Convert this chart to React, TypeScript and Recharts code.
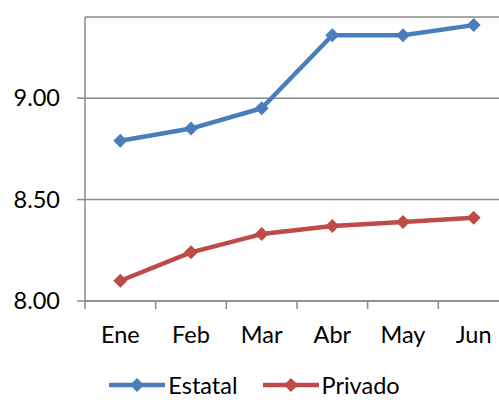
import { LineChart, Line, XAxis, YAxis, CartesianGrid, Legend } from 'recharts';

const MONTHS = ['Ene', 'Feb', 'Mar', 'Abr', 'May', 'Jun'];
const ESTATAL = [8.79, 8.85, 8.95, 9.31, 9.31, 9.36];
const PRIVADO = [8.1, 8.24, 8.33, 8.37, 8.39, 8.41];
const Y_TICKS = [8, 8.5, 9];

const SERIES = [
  { key: 'estatal', name: 'Estatal', color: '#4A7EBB' },
  { key: 'privado', name: 'Privado', color: '#BE4B48' },
];

const data = MONTHS.map((m, i) => ({ month: m, estatal: ESTATAL[i], privado: PRIVADO[i] }));

const GRID = '#8A8A8A';
const FONT = 'Lato, sans-serif';
const FONT_SIZE = 23.5;
const X_MARGIN = 26;

function Diamond({ cx, cy, fill, r = 7 }: any) {
  if (cx == null || cy == null) return null;
  return <path d={`M${cx},${cy - r} L${cx + r},${cy} L${cx},${cy + r} L${cx - r},${cy} Z`} fill={fill} />;
}

// label at band centre, tick mark at band boundary (Excel style)
function MonthTick({ x, y, payload }: any) {
  const axisY = y - X_MARGIN;
  const bx = x - (payload.offset ?? 0);
  return (
    <g>
      <line x1={bx} x2={bx} y1={axisY} y2={axisY + 8} stroke={GRID} strokeWidth={1.5} />
      <text x={x} y={y} dy="0.68em" textAnchor="middle" fill="#000" fontSize={FONT_SIZE} fontFamily={FONT}>
        {payload.value}
      </text>
    </g>
  );
}

function LegendRow() {
  return (
    <div style={{ height: 30, display: 'flex', justifyContent: 'center', alignItems: 'center', gap: 25, fontFamily: FONT, fontSize: FONT_SIZE, color: '#000' }}>
      {SERIES.map((s) => (
        <div key={s.key} style={{ display: 'flex', alignItems: 'center' }}>
          <svg width={56} height={20} style={{ marginRight: 3 }}>
            <line x1={0} x2={56} y1={10} y2={10} stroke={s.color} strokeWidth={4.5} />
            <Diamond cx={28} cy={10} fill={s.color} />
          </svg>
          <span>{s.name}</span>
        </div>
      ))}
    </div>
  );
}

export default function App() {
  return (
    <div style={{ position: 'absolute', left: 0, top: 0, width: 499, height: 400, overflow: 'hidden', background: '#fff' }}>
      <LineChart width={530} height={400} data={data} margin={{ top: 17, right: 21, left: 0, bottom: 0 }} style={{ fontFamily: FONT }}>
        <CartesianGrid vertical={false} stroke={GRID} strokeWidth={1.5} />
        <XAxis
          dataKey="month"
          scale="band"
          height={69}
          tickLine={false}
          tickSize={0}
          tickMargin={X_MARGIN}
          axisLine={{ stroke: GRID, strokeWidth: 1.5 }}
          tick={<MonthTick />}
          interval={0}
        />
        <YAxis
          domain={[8, 9.4]}
          ticks={Y_TICKS}
          tickFormatter={(v: number) => v.toFixed(2)}
          width={85}
          tickSize={8}
          tickMargin={17}
          axisLine={{ stroke: GRID, strokeWidth: 1.5 }}
          tickLine={{ stroke: GRID, strokeWidth: 1.5 }}
          tick={{ fill: '#000', fontSize: FONT_SIZE, fontFamily: FONT }}
        />
        <Legend verticalAlign="bottom" content={<LegendRow />} />
        <Line
          dataKey="estatal"
          name="Estatal"
          type="linear"
          stroke={SERIES[0].color}
          strokeWidth={4.5}
          strokeLinejoin="round"
          dot={(p: any) => <Diamond key={p.index} cx={p.cx} cy={p.cy} fill={SERIES[0].color} />}
          isAnimationActive={false}
        />
        <Line
          dataKey="privado"
          name="Privado"
          type="linear"
          stroke={SERIES[1].color}
          strokeWidth={4.5}
          strokeLinejoin="round"
          dot={(p: any) => <Diamond key={p.index} cx={p.cx} cy={p.cy} fill={SERIES[1].color} />}
          isAnimationActive={false}
        />
      </LineChart>
    </div>
  );
}
